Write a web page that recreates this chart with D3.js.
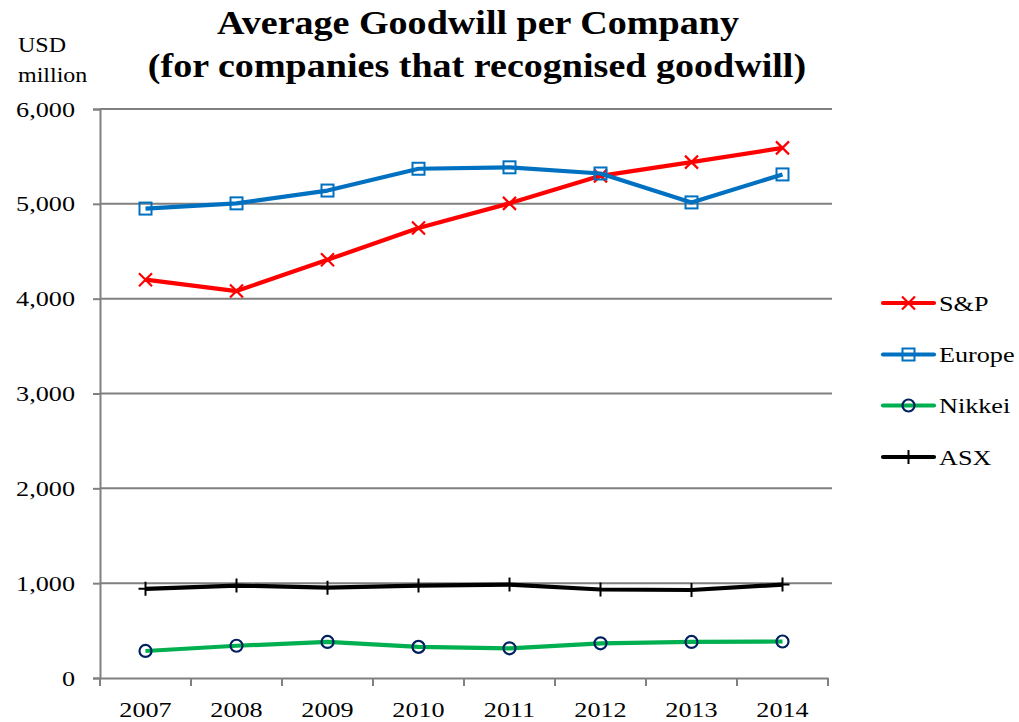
<!DOCTYPE html>
<html><head><meta charset="utf-8">
<script src="https://cdn.jsdelivr.net/npm/d3@7"></script>
<style>body{margin:0;background:#fff}svg{display:block}text{font-family:"Liberation Serif","Times New Roman",serif}</style>
</head><body><svg id="c" width="1019" height="722"></svg>
<script>
const years = ["2007","2008","2009","2010","2011","2012","2013","2014"];
const sp = [4200, 4080, 4410, 4745, 5005, 5295, 5440, 5590];
const europe = [4950, 5005, 5140, 5370, 5385, 5320, 5015, 5310];
const nikkei = [285, 340, 380, 328, 313, 366, 380, 385];
const asx = [940, 975, 952, 975, 985, 933, 928, 985];
const yTicks = [0, 1000, 2000, 3000, 4000, 5000, 6000];
const seriesNames = ["S&P", "Europe", "Nikkei", "ASX"];

const series = [
  {name: seriesNames[0], values: sp, color: "#FF0000", marker: "x"},
  {name: seriesNames[1], values: europe, color: "#0070C0", marker: "square"},
  {name: seriesNames[2], values: nikkei, color: "#00B050", marker: "circle"},
  {name: seriesNames[3], values: asx, color: "#000000", marker: "plus"}
];

const svg = d3.select("#c");
const L = 100, R = 828, T = 109, B = 678;
const x = d3.scaleBand().domain(years).range([L, R]);
const y = d3.scaleLinear().domain([0, 6000]).range([B, T]);
const fmt = d3.format(",");
const SX = 1.19;

function stretch(sel, sx) {
  sel.attr("transform", function() {
    const ax = +this.getAttribute("x") || 0, ay = +this.getAttribute("y") || 0;
    return `translate(${ax},${ay}) scale(${sx},1) translate(${-ax},${-ay})`;
  });
}

// gridlines
svg.append("g").selectAll("line").data(yTicks.filter(d => d > 0)).join("line")
  .attr("x1", L).attr("x2", R + 4).attr("y1", d => y(d)).attr("y2", d => y(d))
  .attr("stroke", "#808080").attr("stroke-width", 2);

// y axis
const yAx = svg.append("g").attr("transform", `translate(${L},0)`)
  .call(d3.axisLeft(y).tickValues(yTicks).tickFormat(fmt).tickSize(7).tickPadding(18));
yAx.select(".domain").attr("stroke", "#808080").attr("stroke-width", 2);
yAx.selectAll(".tick line").attr("stroke", "#808080").attr("stroke-width", 2);
yAx.selectAll("text").attr("font-size", 22).attr("fill", "#000").attr("font-family", "Liberation Serif").call(stretch, SX);

// x axis
const xAx = svg.append("g").attr("transform", `translate(0,${B})`)
  .call(d3.axisBottom(x).tickSize(0).tickPadding(23));
xAx.select(".domain").attr("stroke", "#808080").attr("stroke-width", 2);
xAx.selectAll("text").attr("font-size", 22).attr("fill", "#000").attr("font-family", "Liberation Serif").call(stretch, SX);
svg.append("g").selectAll("line").data(d3.range(years.length + 1)).join("line")
  .attr("x1", i => L + i * x.step()).attr("x2", i => L + i * x.step())
  .attr("y1", B).attr("y2", B + 8).attr("stroke", "#808080").attr("stroke-width", 2);

function drawMarker(g, type, color, cx, cy) {
  if (type === "x") {
    const s = 6.5;
    g.append("path").attr("d", `M${cx-s},${cy-s}L${cx+s},${cy+s}M${cx-s},${cy+s}L${cx+s},${cy-s}`)
      .attr("stroke", color).attr("stroke-width", 2.2).attr("fill", "none");
  } else if (type === "square") {
    g.append("rect").attr("x", cx - 6).attr("y", cy - 6).attr("width", 12).attr("height", 12)
      .attr("stroke", color).attr("stroke-width", 2).attr("fill", "none");
  } else if (type === "circle") {
    g.append("circle").attr("cx", cx).attr("cy", cy).attr("r", 6)
      .attr("stroke", "#002060").attr("stroke-width", 2.2).attr("fill", "none");
  } else if (type === "plus") {
    const s = 7;
    g.append("path").attr("d", `M${cx},${cy-s}L${cx},${cy+s}M${cx-s},${cy}L${cx+s},${cy}`)
      .attr("stroke", color).attr("stroke-width", 2).attr("fill", "none");
  }
}

const line = d3.line().x((d, i) => x(years[i]) + x.bandwidth() / 2).y(d => y(d));
series.forEach(s => {
  const g = svg.append("g");
  g.append("path").attr("d", line(s.values)).attr("fill", "none")
    .attr("stroke", s.color).attr("stroke-width", 4.2).attr("stroke-linejoin", "round");
  s.values.forEach((v, i) => drawMarker(g, s.marker, s.color, x(years[i]) + x.bandwidth() / 2, y(v)));
});

// legend
const legY = [303, 354.5, 405.5, 457];
series.forEach((s, i) => {
  const g = svg.append("g");
  g.append("line").attr("x1", 883).attr("x2", 934).attr("y1", legY[i]).attr("y2", legY[i])
    .attr("stroke", s.color).attr("stroke-width", 4.2).attr("stroke-linecap", "round");
  drawMarker(g, s.marker, s.color, 908.5, legY[i]);
  g.append("text").attr("x", 939).attr("y", legY[i] + 8).attr("font-size", 22).text(s.name).call(stretch, SX);
});

// titles
svg.append("text").attr("x", 478).attr("y", 34).attr("text-anchor", "middle")
  .attr("font-size", 34).attr("font-weight", "bold").text("Average Goodwill per Company").call(stretch, 1.12);
svg.append("text").attr("x", 477).attr("y", 77).attr("text-anchor", "middle")
  .attr("font-size", 34).attr("font-weight", "bold").text("(for companies that recognised goodwill)").call(stretch, 1.12);
svg.append("text").attr("x", 18).attr("y", 52).attr("font-size", 20).text("USD").call(stretch, 1.2);
svg.append("text").attr("x", 18).attr("y", 82).attr("font-size", 20).text("million").call(stretch, 1.2);
</script></body></html>
